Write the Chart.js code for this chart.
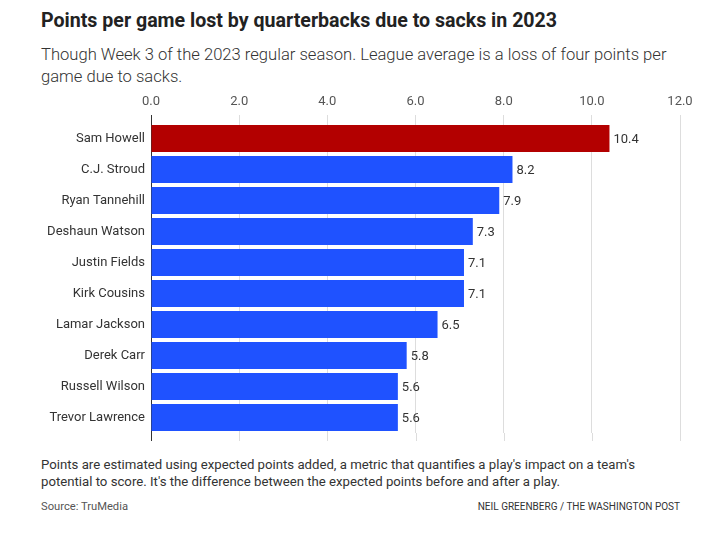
<!DOCTYPE html>
<html>
<head>
<meta charset="utf-8">
<script src="https://cdn.jsdelivr.net/npm/chart.js"></script>
<style>
  body { margin: 0; background: #fff; font-family: Roboto, "Noto Sans", sans-serif; color: #2a2a2a; }
  #page { position: relative; width: 718px; height: 552px; }
  h1 { position: absolute; left: 41px; top: 9px; margin: 0; font-size: 19.6px; font-weight: 700; color: #222; }
  .sub { position: absolute; left: 41px; top: 44px; margin: 0; font-size: 16.6px; line-height: 22px; color: #333; font-weight: 300; }
  #wrap { position: absolute; left: 0; top: 88px; width: 718px; height: 361px; }
  .note { position: absolute; left: 41px; top: 456px; margin: 0; font-size: 13.2px; line-height: 17px; color: #333; }
  .src { position: absolute; left: 41px; top: 500px; font-size: 11.2px; color: #555; }
  .credit { position: absolute; right: 38px; top: 501px; font-size: 10px; color: #333; }
</style>
</head>
<body>
<div id="page">
  <h1>Points per game lost by quarterbacks due to sacks in 2023</h1>
  <p class="sub">Though Week 3 of the 2023 regular season. League average is a loss of four points per<br>game due to sacks.</p>
  <div id="wrap"><canvas id="barChart"></canvas></div>
  <p class="note">Points are estimated using expected points added, a metric that quantifies a play's impact on a team's<br>potential to score. It's the difference between the expected points before and after a play.</p>
  <div class="src">Source: TruMedia</div>
  <div class="credit">NEIL GREENBERG / THE WASHINGTON POST</div>
</div>
<script>
    const players = ['Sam Howell', 'C.J. Stroud', 'Ryan Tannehill', 'Deshaun Watson', 'Justin Fields',
        'Kirk Cousins', 'Lamar Jackson', 'Derek Carr', 'Russell Wilson', 'Trevor Lawrence'];
    const pointsLost = [10.4, 8.2, 7.9, 7.3, 7.1, 7.1, 6.5, 5.8, 5.6, 5.6];
    const xTicks = [0, 2, 4, 6, 8, 10, 12];

    const barColors = players.map((p, i) => i === 0 ? '#b30000' : '#1f52ff');

    // value labels at the end of each bar + gridline stubs under the plot
    const extras = {
        id: 'extras',
        afterDatasetsDraw(chart) {
            const c = chart.ctx;
            const meta = chart.getDatasetMeta(0);
            c.save();
            c.font = '13px Roboto, sans-serif';
            c.fillStyle = '#333';
            c.textBaseline = 'middle';
            meta.data.forEach((bar, i) => {
                c.fillText(pointsLost[i].toFixed(1), bar.x + 4, bar.y + 1);
            });
            const xs = chart.scales.x;
            const bottom = chart.chartArea.bottom;
            xTicks.forEach(v => {
                const px = Math.round(xs.getPixelForValue(v)) + 0.5;
                c.strokeStyle = v === 0 ? '#333' : '#ddd';
                c.lineWidth = 1;
                c.beginPath();
                c.moveTo(px, bottom);
                c.lineTo(px, bottom + 8);
                c.stroke();
            });
            c.restore();
        }
    };

    const ctx = document.getElementById('barChart').getContext('2d');
    const barChart = new Chart(ctx, {
        type: 'bar',
        data: {
            labels: players,
            datasets: [{
                data: pointsLost,
                backgroundColor: barColors,
                barPercentage: 0.87,
                categoryPercentage: 1
            }]
        },
        options: {
            indexAxis: 'y',
            responsive: true,
            maintainAspectRatio: false,
            animation: false,
            layout: { padding: { left: 0, right: 38, top: 0, bottom: 16 } },
            plugins: {
                legend: { display: false },
                tooltip: { enabled: false }
            },
            scales: {
                x: {
                    position: 'top',
                    min: 0,
                    max: 12,
                    afterBuildTicks(scale) {
                        scale.ticks = xTicks.map(v => ({ value: v }));
                    },
                    afterFit(scale) { scale.height = 35; },
                    border: { display: false },
                    grid: {
                        color: c => c.tick && c.tick.value === 0 ? '#333' : '#ddd',
                        tickLength: 8
                    },
                    ticks: {
                        padding: 5,
                        color: '#555',
                        font: { family: 'Roboto', size: 13 },
                        callback: v => v.toFixed(1)
                    }
                },
                y: {
                    afterFit(scale) { scale.width = 151; },
                    border: { display: false },
                    grid: { display: false, drawTicks: false },
                    ticks: {
                        padding: 6,
                        color: '#333',
                        font: { family: 'Roboto', size: 13 }
                    }
                }
            }
        },
        plugins: [extras]
    });
</script>
</body>
</html>
